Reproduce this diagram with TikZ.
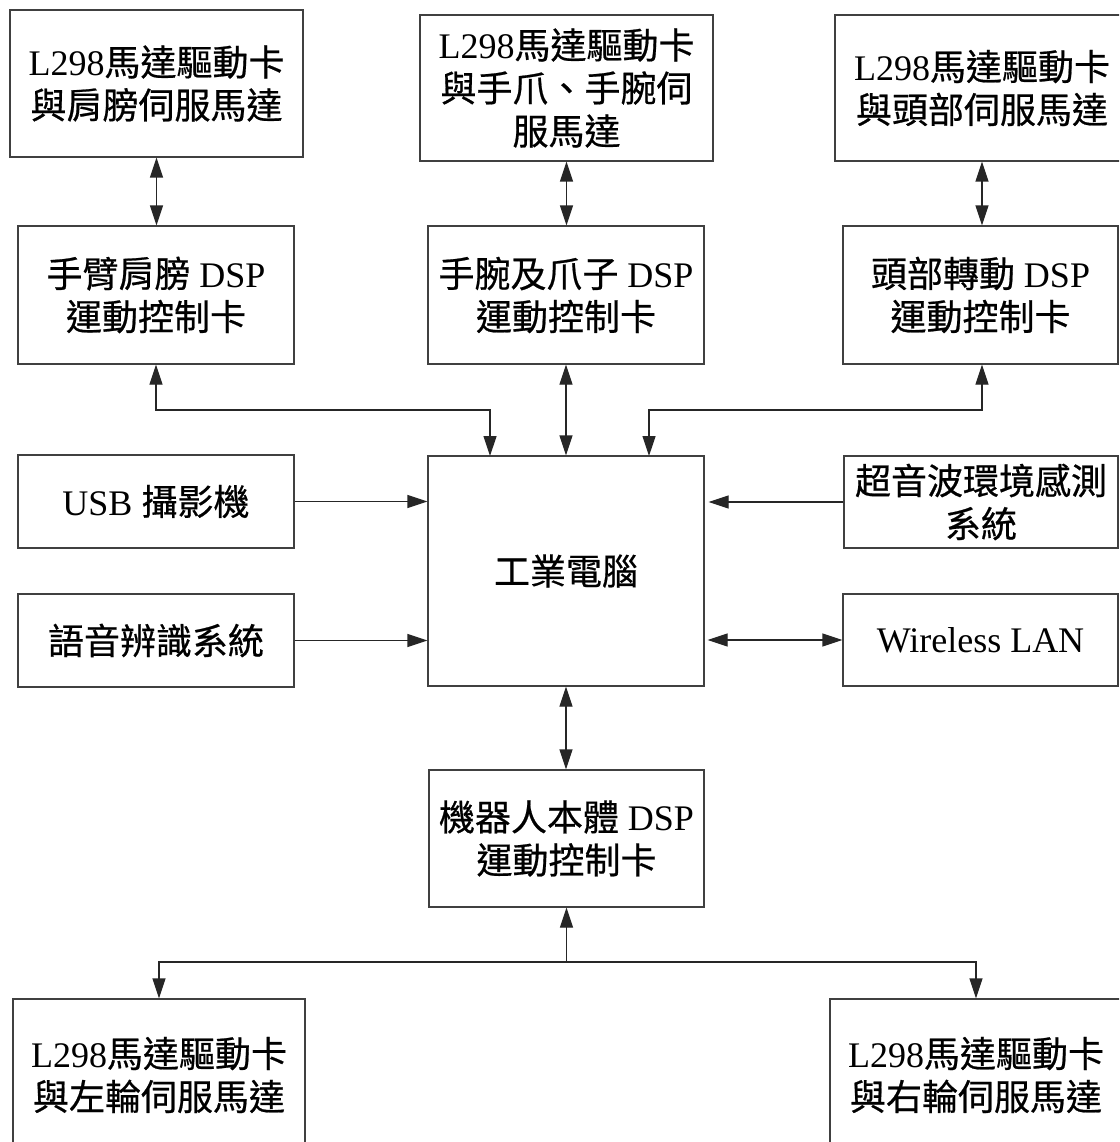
\documentclass[tikz,border=0pt]{standalone}
\usepackage{fontspec}
\setmainfont{Liberation Serif}
\newfontfamily\cjk[FakeBold=0.6]{Noto Sans CJK TC}
\usetikzlibrary{arrows.meta}

\tikzset{
  block/.style={draw=black!75, line width=1.2pt, fill=white, inner sep=0pt,
    align=center, font=\fontsize{36pt}{43pt}\selectfont},
  link/.style={draw=black!85, line width=1.2pt,
    >={Triangle[length=20pt,width=13pt]}},
}

\begin{document}
\begin{tikzpicture}[x=1pt, y=-1pt]
  \useasboundingbox (0,0) rectangle (1119,1142);
  \fill[white] (0,0) rectangle (1119,1142);
  \clip (0,0) rectangle (1119,1142);

  % motor driver cards (top row)
  \node[block, minimum width=293pt, minimum height=147pt] (shoulderMotor) at (156.5,83.5)
    {L298{\cjk 馬達驅動卡}\\{\cjk 與肩膀伺服馬達}};
  \node[block, minimum width=293pt, minimum height=146pt] (wristMotor) at (566.5,88)
    {L298{\cjk 馬達驅動卡}\\{\cjk 與手爪、手腕伺}\\{\cjk 服馬達}};
  \node[block, minimum width=294pt, minimum height=146pt] (headMotor) at (982,88)
    {L298{\cjk 馬達驅動卡}\\{\cjk 與頭部伺服馬達}};

  % DSP motion control cards
  \node[block, minimum width=276pt, minimum height=138pt] (armDSP) at (156,295)
    {{\cjk 手臂肩膀} DSP\\{\cjk 運動控制卡}};
  \node[block, minimum width=276pt, minimum height=138pt] (wristDSP) at (566,295)
    {{\cjk 手腕及爪子} DSP\\{\cjk 運動控制卡}};
  \node[block, minimum width=275pt, minimum height=138pt] (headDSP) at (980.5,295)
    {{\cjk 頭部轉動} DSP\\{\cjk 運動控制卡}};

  % central computer and peripherals
  \node[block, minimum width=276pt, minimum height=93pt] (usb) at (156,501.5)
    {USB {\cjk 攝影機}};
  \node[block, minimum width=276pt, minimum height=230pt] (pc) at (566,571)
    {{\cjk 工業電腦}};
  \node[block, minimum width=274pt, minimum height=92pt] (sonar) at (981,502)
    {{\cjk 超音波環境感測}\\{\cjk 系統}};
  \node[block, minimum width=276pt, minimum height=93pt] (speech) at (156,640.5)
    {{\cjk 語音辨識系統}};
  \node[block, minimum width=275pt, minimum height=92pt] (wlan) at (980.5,640)
    {Wireless LAN};

  % robot body
  \node[block, minimum width=275pt, minimum height=137pt] (bodyDSP) at (566.5,838.5)
    {{\cjk 機器人本體} DSP\\{\cjk 運動控制卡}};
  \node[block, minimum width=292pt, minimum height=152pt] (leftWheel) at (159,1075)
    {L298{\cjk 馬達驅動卡}\\{\cjk 與左輪伺服馬達}};
  \node[block, minimum width=292pt, minimum height=152pt] (rightWheel) at (976,1075)
    {L298{\cjk 馬達驅動卡}\\{\cjk 與右輪伺服馬達}};

  % routing points
  \coordinate (busTop) at (0,410);
  \coordinate (busBottom) at (0,962);
  \coordinate (pcInL) at (490,456);
  \coordinate (pcInR) at (649,456);

  % drivers <-> DSP cards
  \draw[link,<->] (shoulderMotor.south) -- (shoulderMotor.south |- armDSP.north);
  \draw[link,<->] (wristMotor.south) -- (wristMotor.south |- wristDSP.north);
  \draw[link,<->] (headMotor.south) -- (headMotor.south |- headDSP.north);

  % DSP cards <-> computer
  \draw[link,<->] (armDSP.south) -- (armDSP.south |- busTop) -| (pcInL);
  \draw[link,<->] (wristDSP.south) -- (wristDSP.south |- pc.north);
  \draw[link,<->] (headMotor.south |- headDSP.south) -- (headMotor.south |- busTop) -| (pcInR);

  % peripherals
  \draw[link,->] (usb.east) -- (usb.east -| pc.west);
  \draw[link,->] (speech.east) -- (speech.east -| pc.west);
  \draw[link,->, shorten >=4pt] (sonar.west) -- (sonar.west -| pc.east);
  \draw[link,<->, shorten <=3pt] (wlan.west -| pc.east) -- (wlan.west);

  % computer <-> body DSP
  \draw[link,<->] (pc.south) -- (pc.south |- bodyDSP.north);

  % body DSP -> wheel drivers
  \draw[link,->] (bodyDSP.south |- busBottom) -- (bodyDSP.south);
  \draw[link,->] (bodyDSP.south |- busBottom) -| (leftWheel.north);
  \draw[link,->] (bodyDSP.south |- busBottom) -| (rightWheel.north);
\end{tikzpicture}
\end{document}
